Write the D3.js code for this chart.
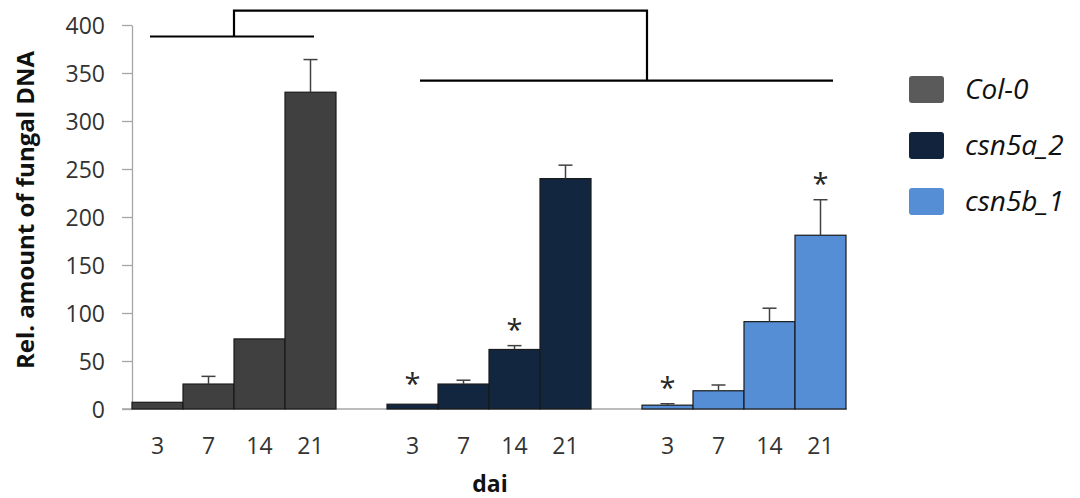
<!DOCTYPE html>
<html>
<head>
<meta charset="utf-8">
<script src="https://cdn.jsdelivr.net/npm/d3@7"></script>
<style>
  html, body { margin: 0; padding: 0; background: #fff; }
  svg { display: block; }
</style>
</head>
<body>
<svg id="chart" width="1080" height="498"></svg>
<script>
// ---------------- data ----------------
const genotypes = ["Col-0", "csn5a_2", "csn5b_1"];
const days = ["3", "7", "14", "21"];
const yTicks = [0, 50, 100, 150, 200, 250, 300, 350, 400];

const col0Values   = [7, 26, 73, 330];
const col0Errors   = [0, 8, 0, 34];
const csn5aValues  = [5, 26, 62, 240];
const csn5aErrors  = [0, 4, 4, 14];
const csn5bValues  = [4, 19, 91, 181];
const csn5bErrors  = [1.5, 6, 14, 37];

const col0Signif  = [false, false, false, false];
const csn5aSignif = [true, false, true, false];
const csn5bSignif = [true, false, false, true];

const barColors    = ["#404040", "#13263f", "#558ed5"];
const legendColors = ["#5a5a5a", "#12233d", "#558ed5"];

// bracket levels (data units)
const bracketTop = 415, bracketLeft = 388, bracketRight = 342;

const series = [
  { name: genotypes[0], values: col0Values,  errors: col0Errors,  signif: col0Signif },
  { name: genotypes[1], values: csn5aValues, errors: csn5aErrors, signif: csn5aSignif },
  { name: genotypes[2], values: csn5bValues, errors: csn5bErrors, signif: csn5bSignif }
];

// ---------------- layout ----------------
const svg = d3.select("#chart");
const font = "'Open Sans', 'DejaVu Sans', sans-serif";

const y = d3.scaleLinear().domain([0, 400]).range([409, 25]);
const xGroup = d3.scaleBand().domain(genotypes).range([132, 846]).paddingInner(0.2).paddingOuter(0);
const xDay = d3.scaleBand().domain(days).range([0, xGroup.bandwidth()]).padding(0);

// y axis
const yAxis = d3.axisLeft(y).tickValues(yTicks).tickSize(10).tickSizeOuter(0).tickPadding(17);
const gy = svg.append("g").attr("transform", "translate(132,0)").call(yAxis);
gy.select(".domain").attr("stroke", "#a6a6a6").attr("stroke-width", 1.3);
gy.selectAll(".tick line").attr("stroke", "#a6a6a6").attr("stroke-width", 1.3);
gy.selectAll(".tick text")
  .attr("font-family", font).attr("font-size", 23).attr("fill", "#333")
  .attr("dy", "0.36em");

// x axis baseline
svg.append("line")
  .attr("x1", 122).attr("x2", xGroup(genotypes[2]) + xGroup.bandwidth() + 1)
  .attr("y1", y(0)).attr("y2", y(0))
  .attr("stroke", "#a6a6a6").attr("stroke-width", 1.3);

// bars
series.forEach((s, gi) => {
  const g = svg.append("g").attr("transform", `translate(${xGroup(s.name)},0)`);
  const data = days.map((d, i) => ({ day: d, v: s.values[i], e: s.errors[i], sig: s.signif[i] }));

  g.selectAll("rect").data(data).enter().append("rect")
    .attr("x", d => xDay(d.day))
    .attr("y", d => y(d.v))
    .attr("width", xDay.bandwidth())
    .attr("height", d => y(0) - y(d.v))
    .attr("fill", barColors[gi])
    .attr("stroke", "#1a1a1a").attr("stroke-width", 1.2);

  // error bars
  const eb = data.filter(d => d.e > 0);
  g.selectAll("line.err").data(eb).enter().append("line").attr("class", "err")
    .attr("x1", d => xDay(d.day) + xDay.bandwidth() / 2)
    .attr("x2", d => xDay(d.day) + xDay.bandwidth() / 2)
    .attr("y1", d => y(d.v)).attr("y2", d => y(d.v + d.e))
    .attr("stroke", "#404040").attr("stroke-width", 1.5);
  g.selectAll("line.cap").data(eb).enter().append("line").attr("class", "cap")
    .attr("x1", d => xDay(d.day) + xDay.bandwidth() / 2 - 7)
    .attr("x2", d => xDay(d.day) + xDay.bandwidth() / 2 + 7)
    .attr("y1", d => y(d.v + d.e)).attr("y2", d => y(d.v + d.e))
    .attr("stroke", "#404040").attr("stroke-width", 1.5);

  // significance stars
  g.selectAll("text.sig").data(data.filter(d => d.sig)).enter().append("text").attr("class", "sig")
    .attr("x", d => xDay(d.day) + xDay.bandwidth() / 2)
    .attr("y", d => y(d.v + d.e) - (d.e > 0 ? 6 : 10))
    .attr("text-anchor", "middle")
    .attr("font-family", font).attr("font-size", 29).attr("fill", "#262626")
    .text("*");

  // x tick labels
  g.selectAll("text.day").data(days).enter().append("text").attr("class", "day")
    .attr("x", d => xDay(d) + xDay.bandwidth() / 2)
    .attr("y", 454)
    .attr("text-anchor", "middle")
    .attr("font-family", font).attr("font-size", 23).attr("fill", "#333")
    .text(d => d);
});

// brackets
const g0 = xGroup(genotypes[0]), g1 = xGroup(genotypes[1]), g2 = xGroup(genotypes[2]), bw = xGroup.bandwidth();
const leftMid = g0 + bw / 2;
const rightVert = g2 + 5;
const bracket = svg.append("g").attr("stroke", "#000").attr("stroke-width", 2.2).attr("fill", "none");
bracket.append("line").attr("x1", g0 + 18).attr("x2", g0 + bw - 22).attr("y1", y(bracketLeft)).attr("y2", y(bracketLeft));
bracket.append("line").attr("x1", g1 + 33).attr("x2", g2 + bw - 13).attr("y1", y(bracketRight)).attr("y2", y(bracketRight));
bracket.append("path").attr("d", `M${leftMid},${y(bracketLeft)} V${y(bracketTop)} H${rightVert} V${y(bracketRight)}`);

// axis titles
svg.append("text")
  .attr("transform", `translate(34,210) rotate(-90)`)
  .attr("text-anchor", "middle")
  .attr("font-family", font).attr("font-size", 24).attr("font-weight", "bold").attr("fill", "#111")
  .text("Rel. amount of fungal DNA");

svg.append("text")
  .attr("x", 490).attr("y", 492)
  .attr("text-anchor", "middle")
  .attr("font-family", font).attr("font-size", 23).attr("font-weight", "bold").attr("fill", "#111")
  .text("dai");

// legend
const legend = svg.append("g").attr("transform", "translate(909,76)");
const li = legend.selectAll("g").data(genotypes).enter().append("g")
  .attr("transform", (d, i) => `translate(0,${i * 56})`);
li.append("rect").attr("width", 35).attr("height", 27).attr("rx", 3)
  .attr("fill", (d, i) => legendColors[i]);
li.append("text").attr("x", 56).attr("y", 23)
  .attr("font-family", font).attr("font-size", 28).attr("font-style", "italic").attr("fill", "#111")
  .text(d => d);
</script>
</body>
</html>
